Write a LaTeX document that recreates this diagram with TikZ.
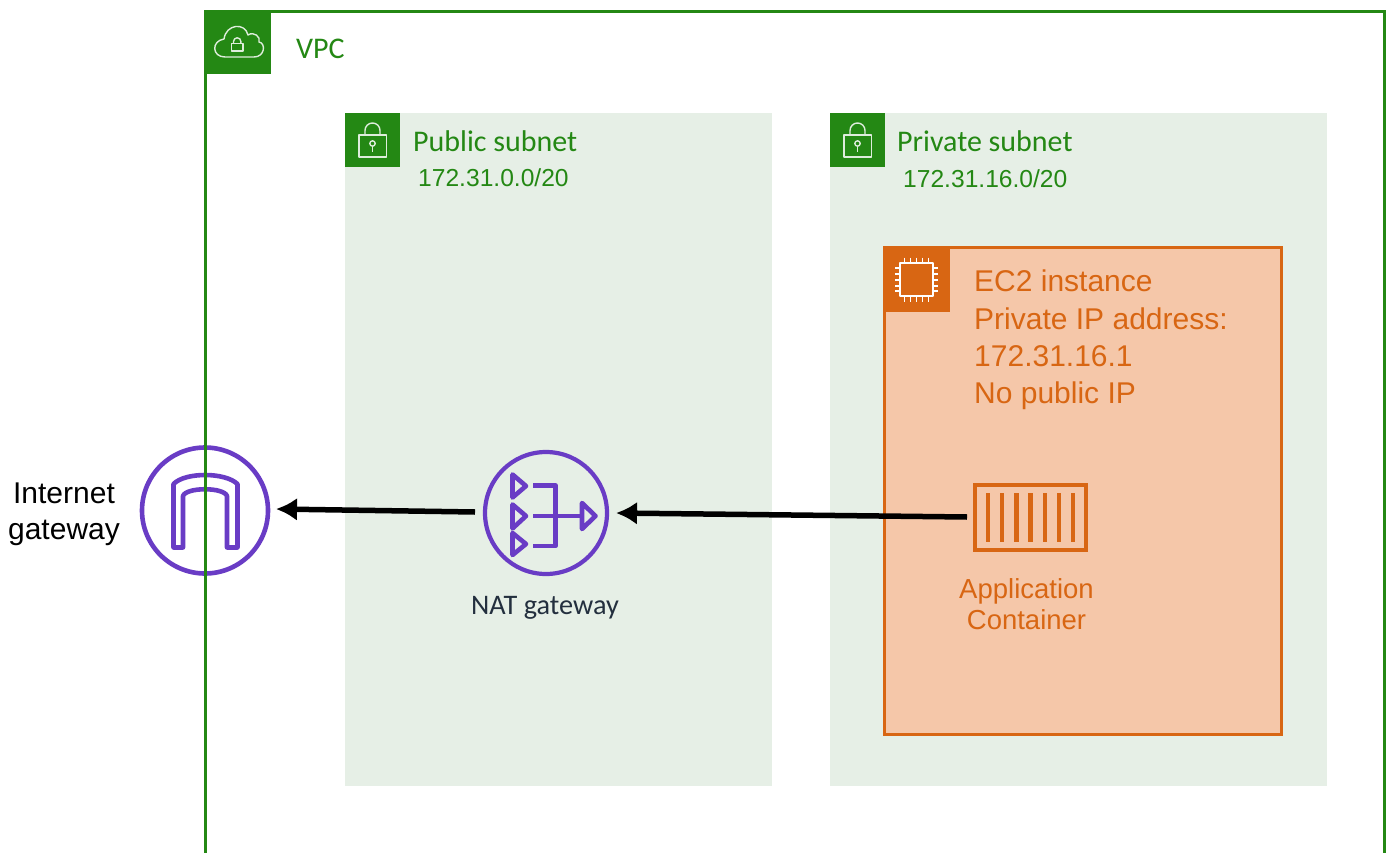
\documentclass[tikz,border=0pt]{standalone}
\usepackage{fontspec}
\setmainfont{Liberation Sans}
\newfontfamily\awsfont{Carlito}
\usetikzlibrary{arrows.meta}
\definecolor{awsgreen}{HTML}{248814}
\definecolor{subnetfill}{HTML}{E6EFE6}
\definecolor{awsorange}{HTML}{D86613}
\definecolor{ecfill}{HTML}{F5C7A9}
\definecolor{awspurple}{HTML}{693CC5}
\definecolor{natink}{HTML}{232F3E}
\tikzset{
  zonelabel/.style={anchor=west,inner sep=0pt,text=awsgreen,font=\awsfont\fontsize{30}{30}\selectfont},
  cidrlabel/.style={anchor=west,inner sep=0pt,text=awsgreen,font=\fontsize{24.6}{24.6}\selectfont},
  ectext/.style={anchor=north west,inner sep=0pt,align=left,text=awsorange,font=\fontsize{30}{37.3}\selectfont},
  conttext/.style={anchor=north,inner sep=0pt,align=center,text=awsorange,font=\fontsize{27.5}{31.5}\selectfont},
  subnetbox/.style={fill=subnetfill,draw=none,inner sep=0pt,outer sep=0pt,anchor=north west},
  iconline/.style={draw=white!85!awsgreen,line width=1.4pt,line join=round},
  purple/.style={draw=awspurple,line width=4.6pt,line join=round},
  flow/.style={draw=black,line width=5.5pt,-{Latex[length=21pt,width=23pt]}},
}
\begin{document}
\begin{tikzpicture}[x=1pt,y=-1pt]
\useasboundingbox (0,0) rectangle (1388,853);
\fill[white] (0,0) rectangle (1388,853);
% VPC frame
\draw[awsgreen,line width=3.4pt] (1384.5,853) -- (1384.5,11.5) -- (205.5,11.5) -- (205.5,853);
\fill[awsgreen] (204,10) rectangle (270.5,74.5);
\draw[iconline] (225,57) .. controls (212,57) and (211,41) .. (224,39)
  .. controls (226,24) and (245,22) .. (248,35)
  .. controls (254,31) and (261,37) .. (259,42)
  .. controls (266,43) and (265,57) .. (254,57) -- cycle;
\draw[iconline] (231.5,51) rectangle (243,43.5);
\draw[iconline] (233.5,43.5) -- (233.5,41.5) arc[start angle=180,end angle=360,radius=3.7] -- (240.9,43.5);
\node[zonelabel] (vpc) at (296,49) {VPC};
% Public subnet
\node[subnetbox,minimum width=427pt,minimum height=673pt] (pub) at (345,113) {};
\fill[awsgreen] (345,113) rectangle (400,167);
\draw[iconline] (359,135) rectangle (386.5,157);
\draw[iconline] (365,135) -- (365,130.5) arc[start angle=180,end angle=360,radius=7.5] -- (380,135);
\draw[iconline] (372.5,152) -- (372.5,146);
\draw[iconline] (372.5,143.5) circle[radius=2.7];
\node[zonelabel] (publabel) at (413,141) {Public subnet};
\node[cidrlabel] (pubcidr) at (418,178) {172.31.0.0/20};
% Private subnet
\node[subnetbox,minimum width=497pt,minimum height=673pt] (priv) at (830,113) {};
\fill[awsgreen] (830,113) rectangle (885,167);
\draw[iconline] (844,135) rectangle (871.5,157);
\draw[iconline] (850,135) -- (850,130.5) arc[start angle=180,end angle=360,radius=7.5] -- (865,135);
\draw[iconline] (857.5,152) -- (857.5,146);
\draw[iconline] (857.5,143.5) circle[radius=2.7];
\node[zonelabel] (privlabel) at (897,141) {Private subnet};
\node[cidrlabel] (privcidr) at (903,179) {172.31.16.0/20};
% EC2 instance
\node[draw=awsorange,fill=ecfill,line width=3pt,inner sep=0pt,outer sep=0pt,anchor=north west,minimum width=397pt,minimum height=487pt] (ec2) at (884,247) {};
\fill[awsorange] (882.5,245.5) rectangle (949.5,312);
\draw[iconline,white] (900,263) rectangle (933,296);
\foreach \p in {904,910,916,922,928}{
  \draw[white,line width=1.3pt] (\p+.5,257.5) -- (\p+.5,263);
  \draw[white,line width=1.3pt] (\p+.5,296) -- (\p+.5,301.5);
}
\foreach \p in {268,274,280,286,291}{
  \draw[white,line width=1.3pt] (895,\p) -- (900,\p);
  \draw[white,line width=1.3pt] (933,\p) -- (938,\p);
}
\node[ectext] (ectxt) at (974,270) {EC2 instance\\Private IP address:\\172.31.16.1\\No public IP};
% Container
\node[draw=awsorange,line width=4.6pt,inner sep=0pt,outer sep=0pt,minimum width=111pt,minimum height=65pt] (cont) at (1030.5,517.5) {};
\foreach \p in {988,1002,1016.5,1030.5,1045,1059,1073}{
  \draw[awsorange,line width=4.8pt] (\p,493) -- (\p,542);
}
\node[conttext] (contlbl) at (1026.5,578) {Application\\Container};
% NAT gateway
\node[draw=awspurple,line width=4.2pt,circle,inner sep=0pt,outer sep=0pt,minimum size=122pt] (nat) at (546,513) {};
\draw[purple] (512.5,474.5) -- (526,486) -- (512.5,497.5) -- cycle;
\draw[purple] (512.5,504.5) -- (526,516) -- (512.5,528.5) -- cycle;
\draw[purple] (512.5,533) -- (526,544) -- (512.5,555) -- cycle;
\draw[purple] (533,485.5) -- (555.5,485.5) -- (555.5,546) -- (533,546);
\draw[purple] (533,516) -- (582,516);
\draw[purple] (582,503) -- (595.5,516) -- (582,529) -- cycle;
\node[anchor=center,inner sep=0pt,text=natink,font=\awsfont\fontsize{28.3}{28.3}\selectfont] (natlbl) at (545,608) {NAT gateway};
% Internet gateway
\node[draw=awspurple,line width=4.6pt,circle,inner sep=0pt,outer sep=0pt,minimum size=126pt] (igw) at (205,510.5) {};
\draw[purple] (173.5,547.5) -- (173.5,484) .. controls (185,472) and (225,472) .. (237.5,484)
  -- (237.5,547.5) -- (227,547.5) -- (227,496) .. controls (224,487) and (186,487) .. (183,496)
  -- (183,547.5) -- cycle;
\draw[awsgreen,line width=3.4pt] (205.5,440) -- (205.5,853);
\node[anchor=center,inner sep=0pt,align=center,text=black,font=\fontsize{30}{36}\selectfont] (igwlbl) at (64,514) {Internet\\gateway};
% Connectors
\draw[flow] ([xshift=-10pt,yshift=1pt]nat.west) -- ([xshift=8pt,yshift=1.5pt]igw.east);
\draw[flow] ([xshift=-8pt,yshift=0.5pt]cont.west) -- ([xshift=9pt]nat.east);
\end{tikzpicture}
\end{document}
